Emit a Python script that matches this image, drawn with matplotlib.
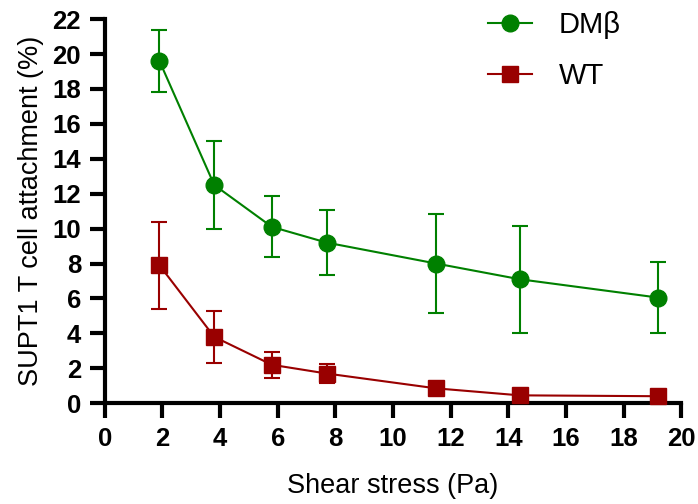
import matplotlib
matplotlib.use("Agg")
from matplotlib import pyplot as plt
import numpy as np

plt.rcParams['font.family'] = ['Liberation Sans', 'DejaVu Sans']

# shear stress (Pa) and attachment (%) with error bars
shear = [1.9, 3.8, 5.8, 7.7, 11.5, 14.4, 19.2]
dmb_mean = [19.6, 12.5, 10.1, 9.2, 8.0, 7.1, 6.05]
dmb_err = [1.8, 2.5, 1.75, 1.85, 2.85, 3.05, 2.05]
wt_mean = [7.9, 3.8, 2.2, 1.7, 0.85, 0.45, 0.4]
wt_err = [2.5, 1.5, 0.75, 0.55, 0.15, 0.1, 0.1]

green = "#008000"
red = "#990000"

fig = plt.figure(figsize=(6.98, 5.04), dpi=100)
ax = fig.add_axes([0.150, 0.200, 0.826, 0.762])

ax.errorbar(shear, dmb_mean, yerr=dmb_err, color=green, marker="o", markersize=12,
            linewidth=1.5, elinewidth=1.5, capsize=6, capthick=1.5, label="DMβ",
            clip_on=False, zorder=3)
ax.errorbar(shear, wt_mean, yerr=wt_err, color=red, marker="s", markersize=11,
            linewidth=1.5, elinewidth=1.5, capsize=6, capthick=1.5, label="WT",
            clip_on=False, zorder=3)

ax.set_xlim(0, 20)
ax.set_ylim(0, 22)
ax.set_xticks(np.arange(0, 21, 2))
ax.set_yticks(np.arange(0, 23, 2))

for side in ["top", "right"]:
    ax.spines[side].set_visible(False)
for side in ["left", "bottom"]:
    ax.spines[side].set_linewidth(3)
ax.tick_params(width=3, length=11, labelsize=18.5, pad=6)
for lab in ax.get_xticklabels() + ax.get_yticklabels():
    lab.set_fontweight("bold")

ax.set_xlabel("Shear stress (Pa)", fontsize=19.5, labelpad=16)
ax.set_ylabel("SUPT1 T cell attachment (%)", fontsize=19.5, labelpad=6)

handles, labels = ax.get_legend_handles_labels()
handles = [h[0] for h in handles]
ax.legend(handles, labels, loc="upper right", bbox_to_anchor=(0.94, 1.09), frameon=False,
          fontsize=21, handlelength=1.5, handletextpad=0.9, labelspacing=0.8)

fig.savefig("out.png", dpi=100)
